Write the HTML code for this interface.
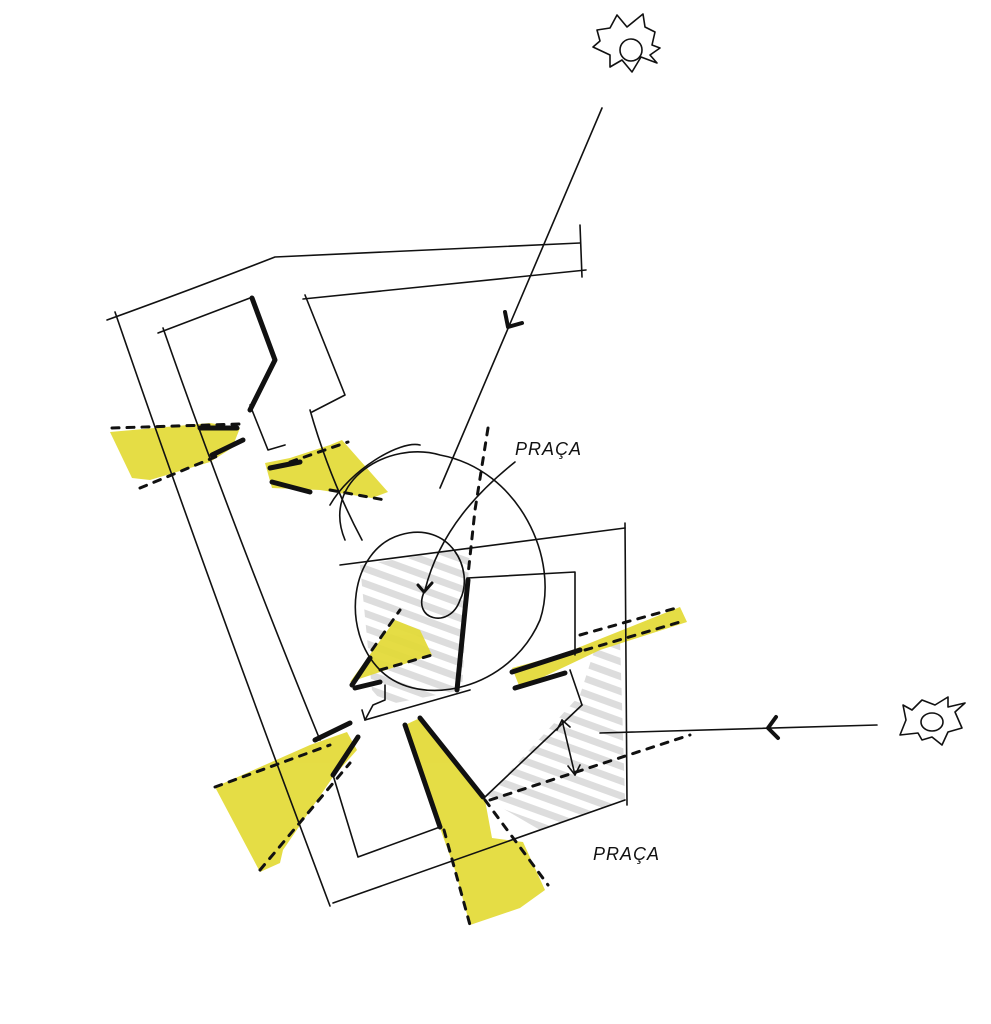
<!DOCTYPE html>
<html><head><meta charset="utf-8"><style>html,body{margin:0;padding:0;background:#fff}svg{display:block}</style></head><body>
<svg width="991" height="1024" viewBox="0 0 991 1024" xmlns="http://www.w3.org/2000/svg" fill="none" stroke="#111" stroke-linecap="round" stroke-linejoin="round">
<defs>
<pattern id="h" width="14" height="14" patternUnits="userSpaceOnUse" patternTransform="rotate(20)">
<rect width="14" height="7" fill="#d9d9d9" stroke="none"/>
</pattern>
</defs>
<!-- gray hatched areas -->
<polygon points="360,565 470,548 462,690 385,705 372,690" fill="url(#h)" stroke="none" opacity="0.9"/>
<polygon points="595,648 620,640 625,800 540,830 485,798 580,695" fill="url(#h)" stroke="none" opacity="0.9"/>
<!-- yellow patches -->
<g fill="#e3da35" stroke="none" opacity="0.92">
<polygon points="110,432 210,423 240,428 232,448 210,462 150,480 132,478"/>
<polygon points="265,463 290,458 330,445 342,440 388,492 372,498 320,490 272,488"/>
<polygon points="350,682 395,620 420,630 432,655 380,672"/>
<polygon points="512,668 560,655 680,607 687,622 600,650 520,688"/>
<polygon points="215,787 310,745 347,732 357,750 333,777 283,850 280,863 260,872"/>
<polygon points="405,725 420,718 485,800 492,838 523,842 545,890 520,908 470,925 455,870 440,828"/>
</g>
<!-- thin lines: outline -->
<g stroke-width="1.6">
<path d="M107,320 Q190,290 275,257 L580,243"/>
<path d="M580,225 L582,277"/>
<path d="M303,299 L586,270"/>
<path d="M115,312 Q200,560 330,906"/>
<path d="M333,903 L625,800"/>
<path d="M158,333 L250,298"/>
<path d="M163,328 Q230,520 320,740"/>
<path d="M250,405 L268,450 L285,445"/>
<path d="M305,295 L345,395 L312,412"/>
<path d="M310,410 Q330,480 362,540"/>
<path d="M340,565 L625,528"/>
<path d="M625,523 L627,805"/>
<path d="M467,578 L575,572 L575,655"/>
<path d="M333,775 L358,857 L440,827"/>
<path d="M365,720 L373,705 L385,700 L385,685"/>
<path d="M362,710 L365,720 L470,690"/>
<path d="M570,670 L582,705"/>
<path d="M582,705 L485,797"/>
<path d="M600,733 L877,725"/>
<path d="M602,108 L440,488"/>
<!-- spiral -->
<path d="M345,540 C320,480 390,440 440,455 C520,470 560,560 540,620 C510,690 420,710 380,670 C340,630 350,550 400,535 C450,520 475,570 460,600 C450,630 410,620 425,590"/>
<path d="M330,505 C350,470 400,440 420,445"/>
<path d="M425,590 C440,530 480,490 515,462"/>
<!-- suns -->
<path d="M597,30 L610,28 L617,15 L627,27 L643,14 L645,27 L655,32 L652,45 L660,48 L650,55 L657,63 L641,57 L632,72 L622,60 L610,67 L610,55 L593,47 L600,41 Z"/>
<ellipse cx="631" cy="50" rx="11" ry="11"/>
<path d="M903,705 L912,710 L922,700 L935,705 L948,697 L948,707 L965,703 L955,712 L962,728 L948,732 L942,745 L932,737 L922,740 L918,733 L900,735 L906,720 Z"/>
<ellipse cx="932" cy="722" rx="11" ry="9"/>
<!-- double arrow -->
<path d="M562,720 L575,775"/>
<path d="M557,730 L562,720 L570,727 M568,766 L575,775 L580,765"/>
</g>
<!-- thick walls -->
<g stroke-width="5">
<path d="M252,298 L275,360 L250,410"/>
<path d="M200,428 L237,428 M212,455 L243,440"/>
<path d="M270,468 L300,462 M272,482 L310,492"/>
<path d="M468,580 L457,690"/>
<path d="M512,672 L580,650 M515,688 L565,673"/>
<path d="M352,685 L370,658 M355,688 L380,682"/>
<path d="M315,740 L350,723 M333,775 L358,737"/>
<path d="M405,725 L440,827 M420,718 L483,797"/>
<path d="M776,717 L768,728 L778,738" stroke-width="4"/>
<path d="M505,312 L508,327 L522,323" stroke-width="4"/>
<path d="M418,585 L424,592 L432,583" stroke-width="3"/>
</g>
<!-- dashed lines -->
<g stroke-width="3" stroke-dasharray="7,8">
<path d="M112,428 L240,424"/>
<path d="M140,488 L220,455"/>
<path d="M290,462 L348,442"/>
<path d="M330,490 L385,500"/>
<path d="M488,428 L475,510 L468,575"/>
<path d="M372,650 L400,610"/>
<path d="M380,670 L432,655"/>
<path d="M585,650 L680,622"/>
<path d="M580,635 L680,607"/>
<path d="M490,800 L690,735"/>
<path d="M485,800 L548,885"/>
<path d="M215,787 L330,745"/>
<path d="M260,870 L350,763"/>
<path d="M444,830 L470,925"/>
</g>
<text x="515" y="455" font-family="Liberation Sans, sans-serif" font-size="18" fill="#111" stroke="none" font-style="italic" letter-spacing="1">PRAÇA</text>
<text x="593" y="860" font-family="Liberation Sans, sans-serif" font-size="18" fill="#111" stroke="none" font-style="italic" letter-spacing="1">PRAÇA</text>
</svg>
</body></html>
